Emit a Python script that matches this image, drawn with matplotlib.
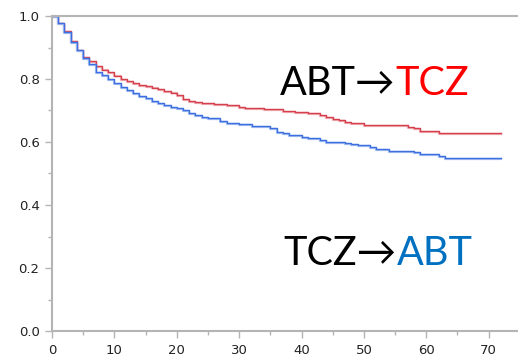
import matplotlib.pyplot as plt
from matplotlib.ticker import MultipleLocator

# Kaplan-Meier style survival steps (months, probability)
abt_tcz_t = [0, 1, 2, 3, 4, 5, 6, 7, 8, 9, 10, 11, 12, 13, 14, 15, 16, 17, 18, 19,
             20, 21, 22, 23, 24, 26, 28, 30, 31, 34, 37, 39, 41, 43, 44, 45, 46, 47,
             48, 50, 52, 57, 58, 59, 62, 72]
abt_tcz_s = [1.0, 0.979, 0.953, 0.922, 0.892, 0.870, 0.858, 0.840, 0.830, 0.821, 0.811,
             0.800, 0.794, 0.786, 0.781, 0.778, 0.773, 0.767, 0.763, 0.757, 0.748,
             0.736, 0.731, 0.726, 0.724, 0.721, 0.716, 0.712, 0.709, 0.705, 0.699,
             0.694, 0.691, 0.686, 0.680, 0.674, 0.670, 0.663, 0.659, 0.655, 0.653,
             0.649, 0.643, 0.635, 0.629, 0.629]

tcz_abt_t = [0, 1, 2, 3, 4, 5, 6, 7, 8, 9, 10, 11, 12, 13, 14, 15, 16, 17, 18, 19,
             20, 21, 22, 23, 24, 25, 27, 28, 29, 30, 32, 35, 36, 37, 38, 40, 41, 43,
             44, 47, 48, 49, 51, 52, 54, 58, 59, 62, 63, 72]
tcz_abt_s = [1.0, 0.979, 0.950, 0.918, 0.892, 0.866, 0.847, 0.823, 0.813, 0.800,
             0.788, 0.776, 0.765, 0.755, 0.746, 0.739, 0.731, 0.725, 0.717, 0.712,
             0.708, 0.702, 0.693, 0.686, 0.680, 0.675, 0.668, 0.661, 0.659, 0.656,
             0.651, 0.643, 0.633, 0.627, 0.622, 0.617, 0.612, 0.606, 0.601, 0.598,
             0.594, 0.590, 0.583, 0.578, 0.572, 0.567, 0.562, 0.556, 0.550, 0.550]

axis_gray = '#b4b4b4'

fig = plt.figure(figsize=(5.18, 3.63), dpi=100)
ax = fig.add_axes([52 / 518, 1 - 331 / 363, 1 - 52 / 518, (331 - 16) / 363])

# faint lighter copy under each curve, then the main line
for t, s, c, lc in [(abt_tcz_t, abt_tcz_s, '#d6404e', '#f0b0b6'),
                    (tcz_abt_t, tcz_abt_s, '#3d6fe0', '#a8c0f2')]:
    ax.plot(t, [v - 0.003 for v in s], drawstyle='steps-post', color=lc, lw=1.6)
    ax.plot(t, s, drawstyle='steps-post', color=c, lw=1.0)

ax.set_xlim(0, 74.7)
ax.set_ylim(0, 1.0)

ax.xaxis.set_major_locator(MultipleLocator(10))
ax.xaxis.set_minor_locator(MultipleLocator(5))
ax.yaxis.set_major_locator(MultipleLocator(0.2))
ax.yaxis.set_minor_locator(MultipleLocator(0.1))
ax.yaxis.set_major_formatter(plt.FuncFormatter(lambda v, p: f'{v:.1f}'))

ax.tick_params(which='major', length=5, width=1, color=axis_gray,
               labelsize=9.5, labelcolor='#222222', pad=4)
ax.tick_params(which='minor', length=3, width=1, color=axis_gray)

for side in ['left', 'bottom', 'top']:
    ax.spines[side].set_color(axis_gray)
    ax.spines[side].set_linewidth(1.5)
ax.spines['right'].set_visible(False)

# group labels
fam = ['Lato', 'DejaVu Sans']
t1 = ax.text(0.489, 0.749, 'ABT\u2192', transform=ax.transAxes, fontsize=28.5,
             family=fam, color='black', ha='left', va='baseline')
ax.annotate('TCZ', xycoords=t1, xy=(1, 0), va='bottom', fontsize=28.5,
            family=fam, color='#ff0000')

t2 = ax.text(0.496, 0.21, 'TCZ\u2192', transform=ax.transAxes, fontsize=28.5,
             family=fam, color='black', ha='left', va='baseline')
ax.annotate('ABT', xycoords=t2, xy=(1, 0), va='bottom', fontsize=28.5,
            family=fam, color='#0070c0')

fig.savefig('out.png', dpi=100)
